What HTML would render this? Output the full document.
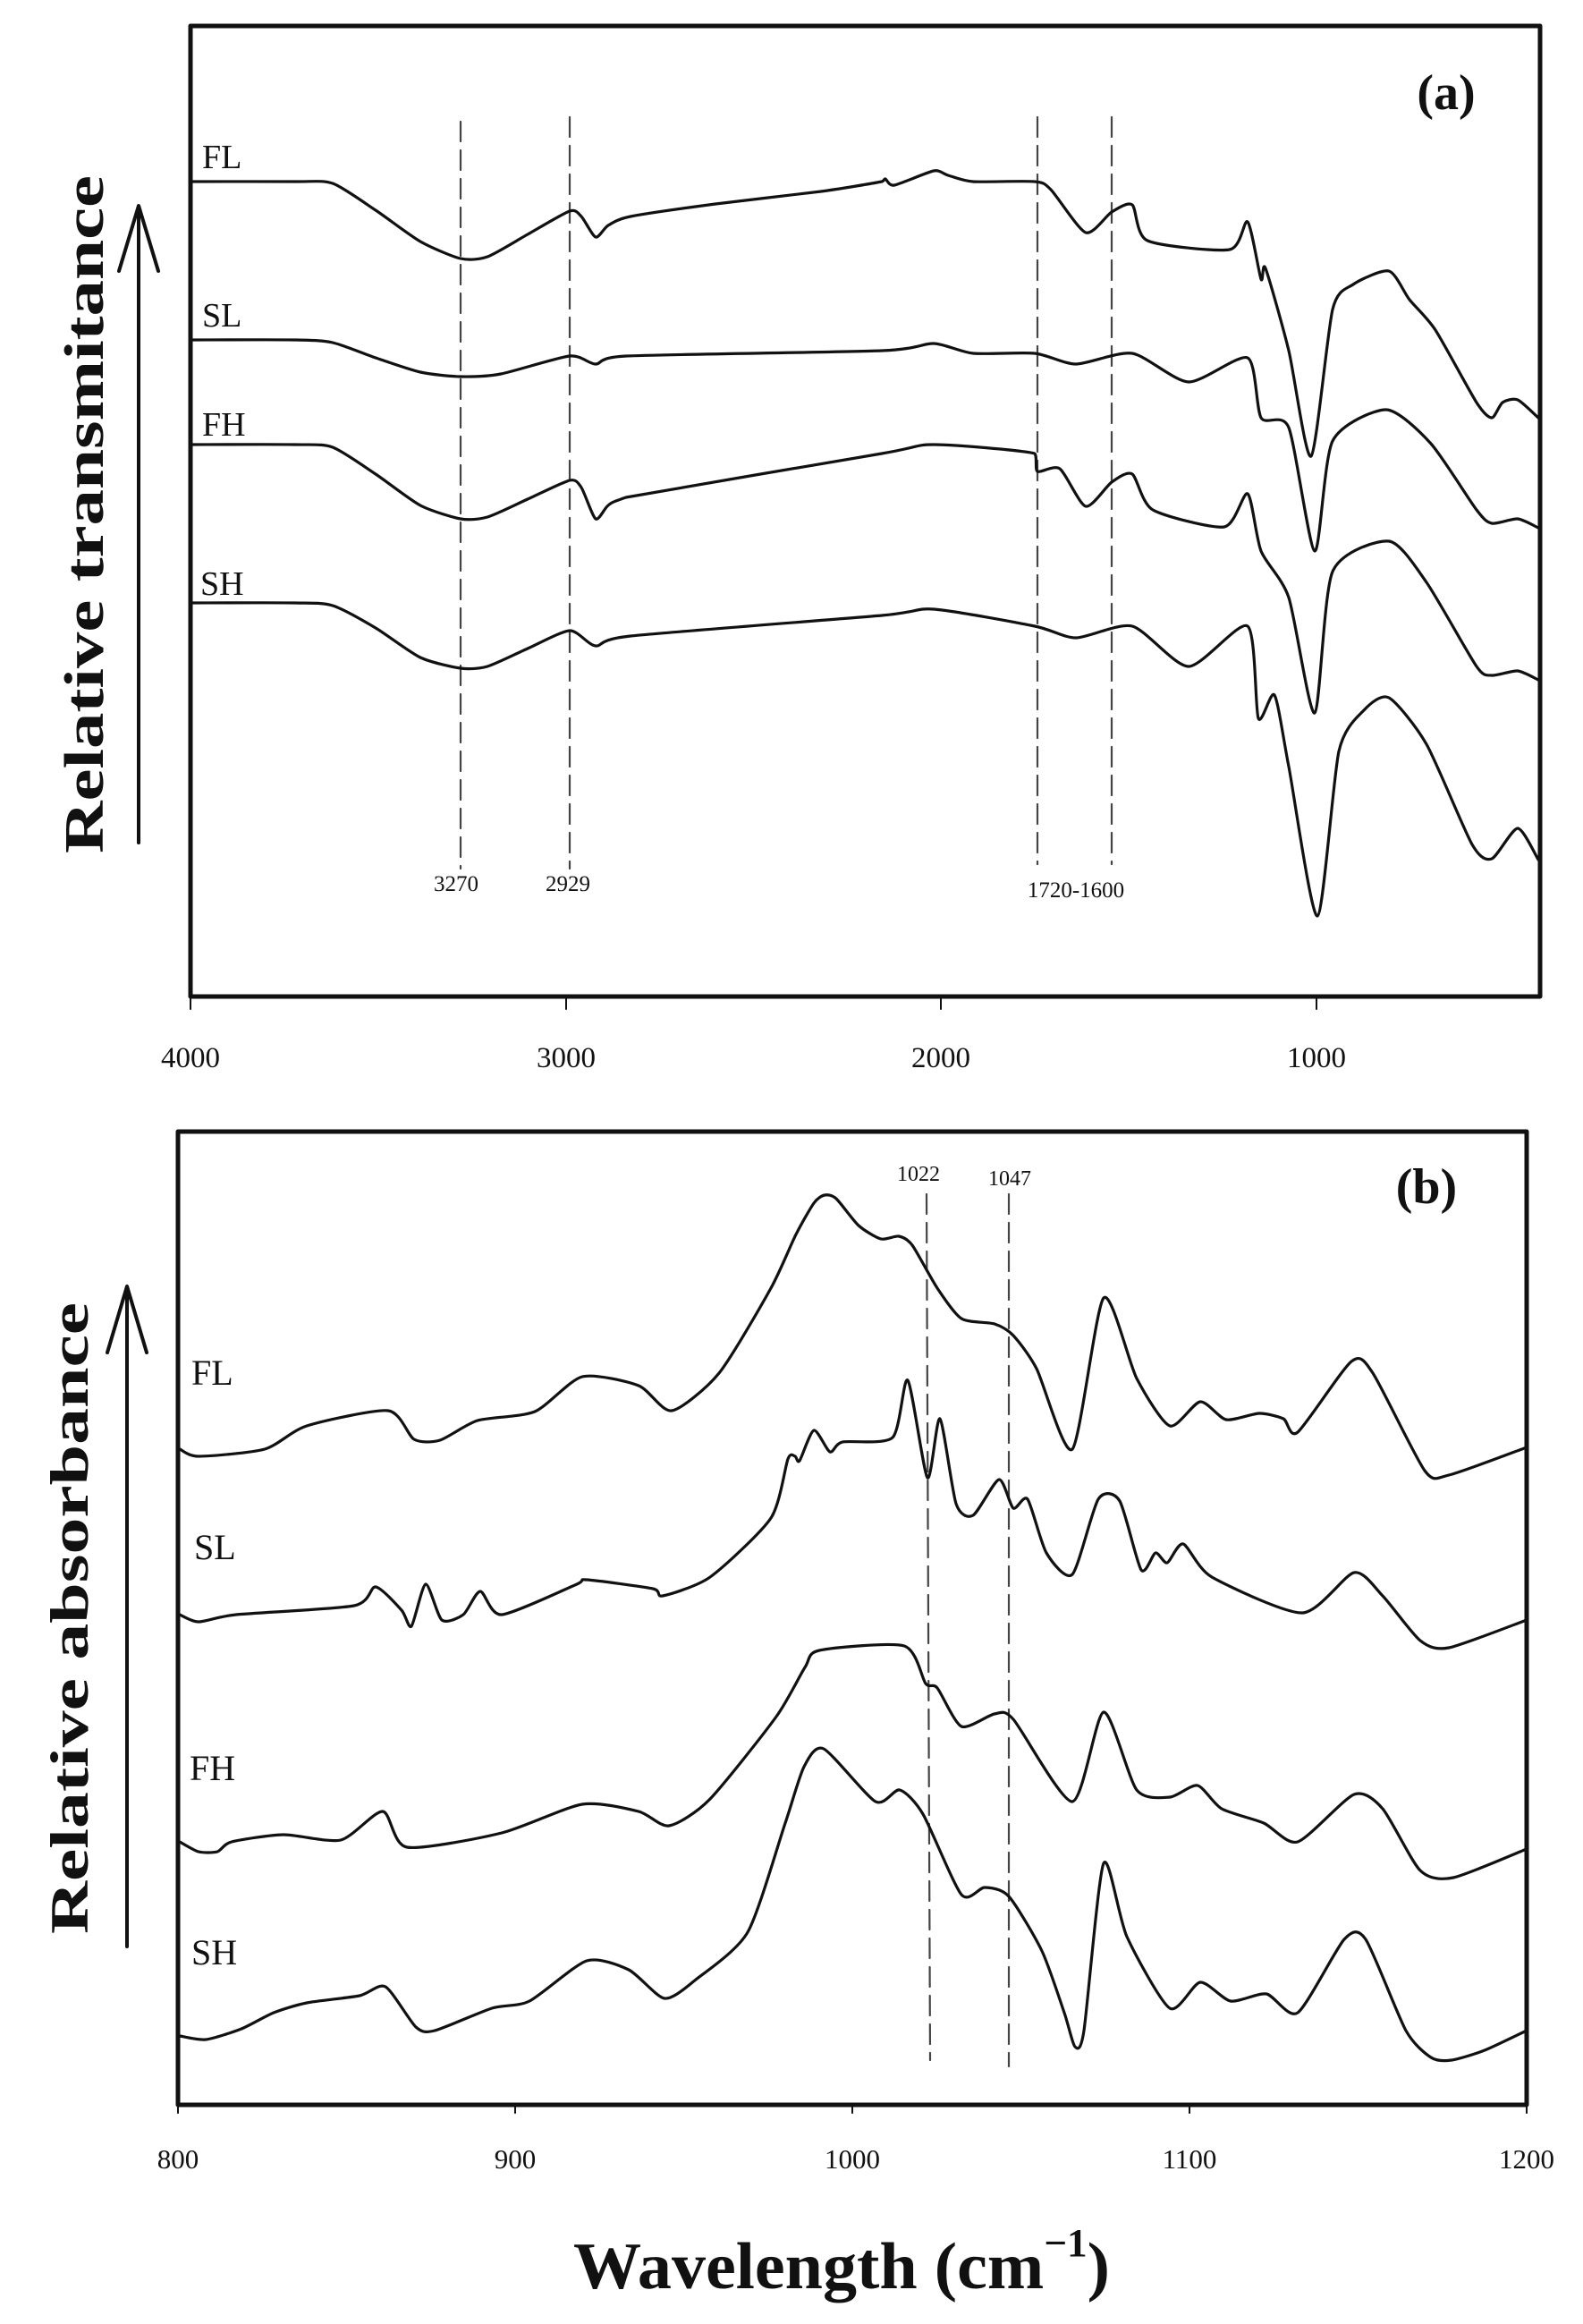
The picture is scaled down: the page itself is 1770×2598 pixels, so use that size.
<!DOCTYPE html>
<html><head><meta charset="utf-8"><style>
html,body{margin:0;padding:0;background:#fff;}
svg{display:block;}
text{font-family:"Liberation Serif",serif;fill:#111;}
</style></head><body>
<svg id="chart" width="1770" height="2598" viewBox="0 0 1770 2598" xmlns="http://www.w3.org/2000/svg">
<g fill="none" stroke="#111" stroke-width="3.2" stroke-linejoin="round" stroke-linecap="round">
<rect x="213" y="29" width="1509" height="1085" stroke-width="5"/>
<line x1="213" y1="1114" x2="213" y2="1128" stroke-width="2"/>
<line x1="633" y1="1114" x2="633" y2="1128" stroke-width="2"/>
<line x1="1052" y1="1114" x2="1052" y2="1128" stroke-width="2"/>
<line x1="1472" y1="1114" x2="1472" y2="1128" stroke-width="2"/>
<g stroke="#444" stroke-width="2.2" stroke-dasharray="22,10">
<line x1="515" y1="136" x2="515" y2="971"/>
<line x1="637" y1="131" x2="637" y2="971"/>
<line x1="1160" y1="131" x2="1160" y2="966"/>
<line x1="1243" y1="131" x2="1243" y2="966"/>
</g>
<polyline class="c" points="213,203 330,203 372,205 420,235 470,270 515,289 545,287 590,262 637,236 650,242 666,265 680,252 705,242 800,228 918,214 986,203 990,200 1000,207 1044,191 1060,196 1088,203 1157,203 1175,212 1214,260 1243,237 1266,229 1283,269 1375,279 1395,248 1410,312 1415,300 1441,392 1466,510 1490,346 1513,318 1553,303 1576,335 1605,369 1651,450 1668,467 1680,450 1697,447 1720,467"/>
<polyline class="c" points="213,380 330,380 372,383 420,400 470,416 515,421 560,418 637,398 666,407 700,398 986,392 1044,384 1088,395 1157,395 1203,407 1266,395 1329,427 1395,400 1410,467 1441,478 1470,616 1490,493 1550,458 1600,496 1651,570 1668,585 1697,580 1720,590"/>
<polyline class="c" points="213,497 330,497 372,500 420,530 470,565 515,580 545,578 590,558 637,537 650,545 666,580 680,565 700,556 986,507 1044,497 1157,507 1160,527 1185,524 1214,566 1243,539 1266,530 1289,570 1369,589 1395,552 1410,616 1441,668 1470,797 1490,639 1553,605 1595,651 1651,745 1668,755 1697,750 1720,760"/>
<polyline class="c" points="213,674 330,674 372,677 420,702 470,735 515,747 545,745 590,725 637,705 666,722 705,711 986,688 1044,681 1157,700 1203,713 1266,700 1329,745 1395,700 1407,803 1425,777 1441,857 1473,1024 1497,840 1525,794 1553,780 1595,832 1646,944 1668,960 1697,926 1720,961"/>
<line x1="155" y1="232" x2="155" y2="942" stroke-width="4"/>
<polyline points="133,303 155,230 177,303" stroke-width="4"/>

<rect x="199" y="1265" width="1508" height="1088" stroke-width="5"/>
<line x1="199" y1="2353" x2="199" y2="2362" stroke-width="2"/>
<line x1="576" y1="2353" x2="576" y2="2362" stroke-width="2"/>
<line x1="953" y1="2353" x2="953" y2="2362" stroke-width="2"/>
<line x1="1330" y1="2353" x2="1330" y2="2362" stroke-width="2"/>
<line x1="1707" y1="2353" x2="1707" y2="2362" stroke-width="2"/>
<g stroke="#444" stroke-width="2.2" stroke-dasharray="22,10">
<line x1="1036" y1="1335" x2="1040" y2="2303"/>
<line x1="1128" y1="1335" x2="1128" y2="2310"/>
</g>
<polyline class="c" points="201,1620 222,1628 296,1620 343,1594 434,1577 463,1609 492,1610 534,1588 598,1578 651,1539 714,1549 751,1577 804,1535 862,1440 890,1380 910,1345 922,1336 935,1340 960,1370 985,1385 1005,1382 1020,1392 1048,1440 1075,1474 1112,1480 1133,1493 1159,1530 1199,1620 1234,1451 1271,1541 1308,1594 1342,1567 1371,1587 1408,1580 1435,1586 1451,1601 1511,1522 1535,1535 1593,1644 1620,1649 1707,1618"/>
<polyline class="c" points="201,1805 222,1813 264,1805 396,1795 420,1774 449,1800 460,1818 476,1771 494,1811 518,1805 537,1779 561,1805 645,1771 656,1766 730,1776 741,1784 794,1763 862,1697 881,1631 889,1628 894,1633 910,1599 928,1623 942,1612 998,1607 1015,1543 1037,1652 1051,1586 1069,1681 1088,1694 1117,1654 1133,1686 1149,1676 1170,1736 1199,1760 1228,1676 1252,1678 1276,1755 1292,1736 1305,1747 1323,1726 1355,1763 1456,1803 1514,1758 1546,1784 1588,1834 1620,1842 1707,1811"/>
<polyline class="c" points="201,2059 222,2070 243,2070 259,2059 317,2051 381,2057 428,2025 455,2065 561,2049 651,2017 714,2025 748,2041 793,2012 868,1919 900,1864 916,1845 1011,1840 1035,1882 1048,1887 1075,1930 1112,1916 1133,1922 1199,2014 1234,1914 1271,2001 1308,2009 1339,1996 1366,2022 1413,2038 1451,2059 1514,2006 1546,2022 1588,2091 1625,2099 1707,2067"/>
<polyline class="c" points="201,2276 230,2280 270,2268 306,2250 343,2239 402,2231 431,2221 465,2266 486,2270 550,2245 592,2237 656,2192 703,2202 743,2234 778,2213 836,2160 878,2038 899,1975 921,1955 979,2014 1006,2001 1032,2028 1075,2118 1101,2110 1128,2120 1165,2181 1190,2250 1202,2288 1212,2270 1234,2083 1260,2165 1308,2245 1342,2216 1376,2237 1416,2229 1451,2250 1503,2168 1527,2168 1572,2270 1600,2300 1623,2303 1660,2292 1707,2270"/>
<line x1="142" y1="1440" x2="142" y2="2176" stroke-width="4"/>
<polyline points="120,1512 142,1438 164,1512" stroke-width="4"/>
</g>

<text x="1617" y="122" font-size="56" font-weight="bold" text-anchor="middle">(a)</text>
<g font-size="38">
<text x="226" y="188">FL</text>
<text x="226" y="365">SL</text>
<text x="226" y="487">FH</text>
<text x="224" y="665">SH</text>
</g>
<g font-size="25" fill="#333" text-anchor="middle">
<text x="510" y="996">3270</text>
<text x="635" y="996">2929</text>
<text x="1203" y="1003">1720-1600</text>
</g>
<g font-size="33" text-anchor="middle">
<text x="213" y="1193">4000</text>
<text x="633" y="1193">3000</text>
<text x="1052" y="1193">2000</text>
<text x="1472" y="1193">1000</text>
</g>
<text transform="translate(115,575) rotate(-90)" font-size="62" font-weight="bold" text-anchor="middle" textLength="758" lengthAdjust="spacingAndGlyphs">Relative transmitance</text>

<text x="1595" y="1345" font-size="56" font-weight="bold" text-anchor="middle">(b)</text>
<g font-size="24" fill="#333" text-anchor="middle">
<text x="1027" y="1320">1022</text>
<text x="1129" y="1325">1047</text>
</g>
<g font-size="40">
<text x="214" y="1548">FL</text>
<text x="217" y="1743">SL</text>
<text x="212" y="1990">FH</text>
<text x="214" y="2196">SH</text>
</g>
<g font-size="31" text-anchor="middle">
<text x="199" y="2424">800</text>
<text x="576" y="2424">900</text>
<text x="953" y="2424">1000</text>
<text x="1330" y="2424">1100</text>
<text x="1707" y="2424">1200</text>
</g>
<text transform="translate(98,1809) rotate(-90)" font-size="60" font-weight="bold" text-anchor="middle" textLength="706" lengthAdjust="spacingAndGlyphs">Relative absorbance</text>
<text x="641" y="2558" font-size="74" font-weight="bold" textLength="600" lengthAdjust="spacingAndGlyphs">Wavelength (cm<tspan font-size="44" dy="-36">−1</tspan><tspan dy="36">)</tspan></text>
</svg>
<script>
(function(){
  var ns="http://www.w3.org/2000/svg";
  var pls=document.querySelectorAll("polyline.c");
  for(var i=0;i<pls.length;i++){
    var pl=pls[i];
    var pts=pl.getAttribute("points").trim().split(/\s+/).map(function(s){var a=s.split(",");return [+a[0],+a[1]];});
    var d="M"+pts[0][0]+","+pts[0][1];
    for(var j=0;j<pts.length-1;j++){
      var p0=pts[j>0?j-1:j],p1=pts[j],p2=pts[j+1],p3=pts[j+2<pts.length?j+2:j+1];
      var t=0.12;
      var c1x=p1[0]+(p2[0]-p0[0])*t,c1y=p1[1]+(p2[1]-p0[1])*t;
      var c2x=p2[0]-(p3[0]-p1[0])*t,c2y=p2[1]-(p3[1]-p1[1])*t;
      if(c1x<p1[0])c1x=p1[0]; if(c1x>p2[0])c1x=p2[0];
      if(c2x<p1[0])c2x=p1[0]; if(c2x>p2[0])c2x=p2[0];
      d+=" C"+c1x.toFixed(1)+","+c1y.toFixed(1)+" "+c2x.toFixed(1)+","+c2y.toFixed(1)+" "+p2[0]+","+p2[1];
    }
    var path=document.createElementNS(ns,"path");
    path.setAttribute("d",d);
    pl.parentNode.replaceChild(path,pl);
  }
})();
</script>
</body></html>
